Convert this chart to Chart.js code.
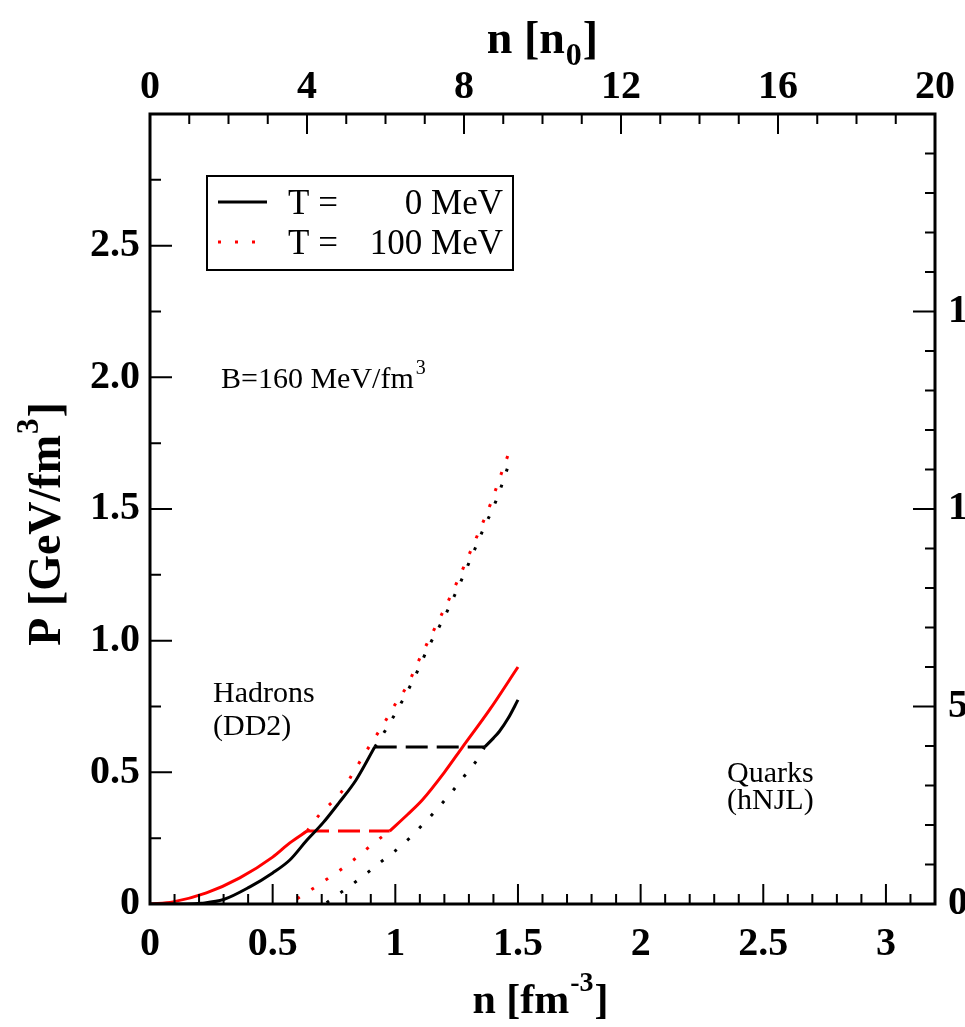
<!DOCTYPE html>
<html lang="en">
<head>
<meta charset="UTF-8">
<title>Pressure vs density</title>
<script src="https://cdn.jsdelivr.net/npm/chart.js"></script>
<style>
  html, body { margin: 0; padding: 0; background: #fff; overflow: hidden; }
  #wrap { width: 1000px; height: 1027px; }
</style>
</head>
<body>
<div id="wrap"><canvas id="eos" width="1000" height="1027"></canvas></div>
<script>
// density n in fm^-3, pressure P in GeV/fm^3
// T = 0 MeV
const hadT0_n = [0, 0.15, 0.21, 0.30, 0.407, 0.50, 0.57, 0.64, 0.705, 0.77, 0.84, 0.916];
const hadT0_P = [0, 0, 0.003, 0.017, 0.065, 0.118, 0.167, 0.243, 0.308, 0.384, 0.471, 0.596];
const mixT0_n = [0.916, 1.364];
const mixT0_P = [0.596, 0.596];
const qrkT0_n = [1.364, 1.40, 1.424, 1.46, 1.50];
const qrkT0_P = [0.596, 0.63, 0.655, 0.705, 0.775];
// metastable branches
const hadT0m_n = [0.916, 0.96, 1.01, 1.07, 1.14, 1.20, 1.26, 1.30, 1.355, 1.41, 1.45, 1.47];
const hadT0m_P = [0.596, 0.66, 0.74, 0.845, 0.985, 1.09, 1.21, 1.295, 1.415, 1.53, 1.635, 1.694];
const qrkT0m_n = [0.72, 0.78, 0.835, 0.888, 0.944, 0.997, 1.058, 1.11, 1.16, 1.23, 1.278, 1.335, 1.364];
const qrkT0m_P = [0.005, 0.045, 0.082, 0.12, 0.162, 0.2, 0.25, 0.3, 0.35, 0.425, 0.482, 0.55, 0.596];

// T = 100 MeV
const hadT100_n = [0, 0.094, 0.23, 0.366, 0.50, 0.57, 0.64];
const hadT100_P = [0, 0.008, 0.042, 0.099, 0.178, 0.232, 0.277];
const mixT100_n = [0.64, 0.977];
const mixT100_P = [0.277, 0.277];
const qrkT100_n = [0.977, 1.05, 1.11, 1.20, 1.274, 1.384, 1.50];
const qrkT100_P = [0.277, 0.34, 0.395, 0.50, 0.596, 0.737, 0.90];
const hadT100m_n = [0.64, 0.69, 0.78, 0.84, 0.905, 0.95, 1.005, 1.045, 1.11, 1.143, 1.233, 1.335, 1.388, 1.433, 1.478];
const hadT100m_P = [0.277, 0.338, 0.425, 0.517, 0.615, 0.68, 0.767, 0.824, 0.953, 1.014, 1.185, 1.401, 1.519, 1.637, 1.751];
const qrkT100m_n = [0.60, 0.705, 0.82, 0.92, 0.977];
const qrkT100m_P = [0.02, 0.084, 0.16, 0.237, 0.277];

const nTicks = [0, 0.5, 1, 1.5, 2, 2.5, 3];
const n0Ticks = [0, 4, 8, 12, 16, 20];
const pTicks = [0, 0.5, 1, 1.5, 2, 2.5];
const rTicks = [0, 5, 10, 15];

const SERIF = "'Liberation Serif', 'Times New Roman', serif";
const BLACK = '#000000';
const RED = '#ff0000';

function pts(xs, ys) {
  return xs.map((x, i) => ({ x: x, y: ys[i] }));
}

function curve(xs, ys, color, dash) {
  return {
    data: pts(xs, ys),
    showLine: true,
    borderColor: color,
    borderWidth: 3,
    borderDash: dash,
    borderCapStyle: 'butt',
    pointRadius: 0,
    cubicInterpolationMode: 'monotone',
    xAxisID: 'x',
    yAxisID: 'y'
  };
}

const DOT = [3, 14];
const DASH = [22, 9];

const datasets = [
  curve(hadT0m_n, hadT0m_P, BLACK, DOT),
  curve(qrkT0m_n, qrkT0m_P, BLACK, DOT),
  curve(hadT100m_n, hadT100m_P, RED, DOT),
  curve(qrkT100m_n, qrkT100m_P, RED, DOT),
  curve(hadT0_n, hadT0_P, BLACK, []),
  curve(mixT0_n, mixT0_P, BLACK, DASH),
  curve(qrkT0_n, qrkT0_P, BLACK, []),
  curve(hadT100_n, hadT100_P, RED, []),
  curve(mixT100_n, mixT100_P, RED, DASH),
  curve(qrkT100_n, qrkT100_P, RED, [])
];

const tickFont = { family: SERIF, size: 40, weight: 'bold' };

function fixed(list) {
  return function (scale) { scale.ticks = list.map(v => ({ value: v })); };
}

// draws "main" + raised/lowered "small" + "tail" starting at x, baseline y
function scripted(ctx, parts, x, y, bigPx, smallPx, shift) {
  const big = 'bold ' + bigPx + 'px ' + SERIF;
  const small = 'bold ' + smallPx + 'px ' + SERIF;
  ctx.font = big;
  const w1 = ctx.measureText(parts[0]).width;
  ctx.font = small;
  const w2 = ctx.measureText(parts[1]).width;
  ctx.font = big;
  ctx.fillText(parts[0], x, y);
  ctx.font = small;
  ctx.fillText(parts[1], x + w1 + 1, y + shift);
  ctx.font = big;
  ctx.fillText(parts[2], x + w1 + w2 + 2, y);
}

function scriptedWidth(ctx, parts, bigPx, smallPx) {
  ctx.font = 'bold ' + bigPx + 'px ' + SERIF;
  const w = ctx.measureText(parts[0]).width + ctx.measureText(parts[2]).width;
  ctx.font = 'bold ' + smallPx + 'px ' + SERIF;
  return w + ctx.measureText(parts[1]).width + 2;
}

// frame, inward tick marks, titles, notes and the legend box
const decor = {
  id: 'decor',
  afterDraw(chart) {
    const ctx = chart.ctx;
    const a = chart.chartArea;
    const sx = chart.scales.x, sx2 = chart.scales.x2, sy = chart.scales.y, sy2 = chart.scales.y2;
    ctx.save();
    ctx.setLineDash([]);
    ctx.strokeStyle = '#000';
    ctx.lineWidth = 2;
    ctx.beginPath();
    for (let i = 0; i <= 32; i++) {
      const px = sx.getPixelForValue(i / 10);
      const len = i % 5 === 0 ? 20 : 10;
      ctx.moveTo(px, a.bottom); ctx.lineTo(px, a.bottom - len);
    }
    for (let i = 0; i <= 20; i++) {
      const px = sx2.getPixelForValue(i);
      const len = i % 4 === 0 ? 20 : 10;
      ctx.moveTo(px, a.top); ctx.lineTo(px, a.top + len);
    }
    for (let i = 0; i <= 12; i++) {
      const py = sy.getPixelForValue(i * 0.25);
      const len = i % 2 === 0 ? 22 : 11;
      ctx.moveTo(a.left, py); ctx.lineTo(a.left + len, py);
    }
    for (let i = 0; i <= 20; i++) {
      const py = sy2.getPixelForValue(i);
      const len = i % 5 === 0 ? 22 : 10;
      ctx.moveTo(a.right, py); ctx.lineTo(a.right - len, py);
    }
    ctx.stroke();
    ctx.lineWidth = 3;
    ctx.strokeRect(a.left, a.top, a.right - a.left, a.bottom - a.top);

    // axis titles
    ctx.fillStyle = '#000';
    ctx.textBaseline = 'alphabetic';
    ctx.textAlign = 'left';
    const cx = (a.left + a.right) / 2;

    let parts = ['n [fm', '-3', ']'];
    let w = scriptedWidth(ctx, parts, 42, 28);
    scripted(ctx, parts, cx - w / 2 - 2, 1013, 42, 28, -22);

    parts = ['n [n', '0', ']'];
    w = scriptedWidth(ctx, parts, 46, 32);
    scripted(ctx, parts, cx - w / 2, 53, 46, 32, 12);

    ctx.save();
    ctx.translate(60, 0);
    ctx.rotate(-Math.PI / 2);
    parts = ['P [GeV/fm', '3', ']'];
    w = scriptedWidth(ctx, parts, 46, 31);
    scripted(ctx, parts, -524 - w / 2, 0, 46, 31, -22);
    ctx.restore();

    // notes inside the frame
    const note = '30px ' + SERIF;
    ctx.font = note;
    ctx.fillText('B=160 MeV/fm', 221, 388);
    const wb = ctx.measureText('B=160 MeV/fm').width;
    ctx.font = '20px ' + SERIF;
    ctx.fillText('3', 221 + wb + 2, 374);
    ctx.font = note;
    ctx.fillText('Hadrons', 213, 702);
    ctx.fillText('(DD2)', 213, 735);
    ctx.fillText('Quarks', 727, 782);
    ctx.fillText('(hNJL)', 727, 809);

    // legend
    ctx.lineWidth = 2;
    ctx.strokeRect(207, 176, 306, 94);
    ctx.lineWidth = 3;
    ctx.strokeStyle = BLACK;
    ctx.beginPath(); ctx.moveTo(218, 202); ctx.lineTo(267, 202); ctx.stroke();
    ctx.setLineDash(DOT);
    ctx.strokeStyle = RED;
    ctx.beginPath(); ctx.moveTo(218, 242); ctx.lineTo(267, 242); ctx.stroke();
    ctx.setLineDash([]);
    ctx.font = '35px ' + SERIF;
    ctx.textAlign = 'left';
    ctx.fillText('T =', 288, 214);
    ctx.fillText('T =', 288, 254);
    ctx.textAlign = 'right';
    ctx.fillText('0 MeV', 503, 214);
    ctx.fillText('100 MeV', 503, 254);
    ctx.restore();
  }
};

new Chart(document.getElementById('eos'), {
  type: 'scatter',
  data: { datasets: datasets },
  plugins: [decor],
  options: {
    responsive: false,
    animation: false,
    devicePixelRatio: 1,
    layout: { padding: 0 },
    plugins: { legend: { display: false }, tooltip: { enabled: false } },
    scales: {
      x: {
        type: 'linear', position: 'bottom', min: 0, max: 3.2,
        afterBuildTicks: fixed(nTicks),
        afterFit(s) { s.height = 123; },
        grid: { display: false, drawTicks: false },
        border: { display: false },
        ticks: { font: tickFont, color: '#000', padding: 17, maxRotation: 0,
                 callback: v => String(v) }
      },
      x2: {
        type: 'linear', position: 'top', min: 0, max: 20,
        afterBuildTicks: fixed(n0Ticks),
        afterFit(s) { s.height = 114; },
        grid: { display: false, drawTicks: false },
        border: { display: false },
        ticks: { font: tickFont, color: '#000', padding: 2, maxRotation: 0,
                 callback: v => String(v) }
      },
      y: {
        type: 'linear', position: 'left', min: 0, max: 3,
        afterBuildTicks: fixed(pTicks),
        afterFit(s) { s.width = 150; },
        grid: { display: false, drawTicks: false },
        border: { display: false },
        ticks: { font: tickFont, color: '#000', padding: 10,
                 callback: v => (v === 0 ? '0' : v.toFixed(1)) }
      },
      y2: {
        type: 'linear', position: 'right', min: 0, max: 20,
        afterBuildTicks: fixed(rTicks),
        afterFit(s) { s.width = 65; },
        grid: { display: false, drawTicks: false },
        border: { display: false },
        ticks: { font: tickFont, color: '#000', padding: 13,
                 callback: v => String(v) }
      }
    }
  }
});
</script>
</body>
</html>
